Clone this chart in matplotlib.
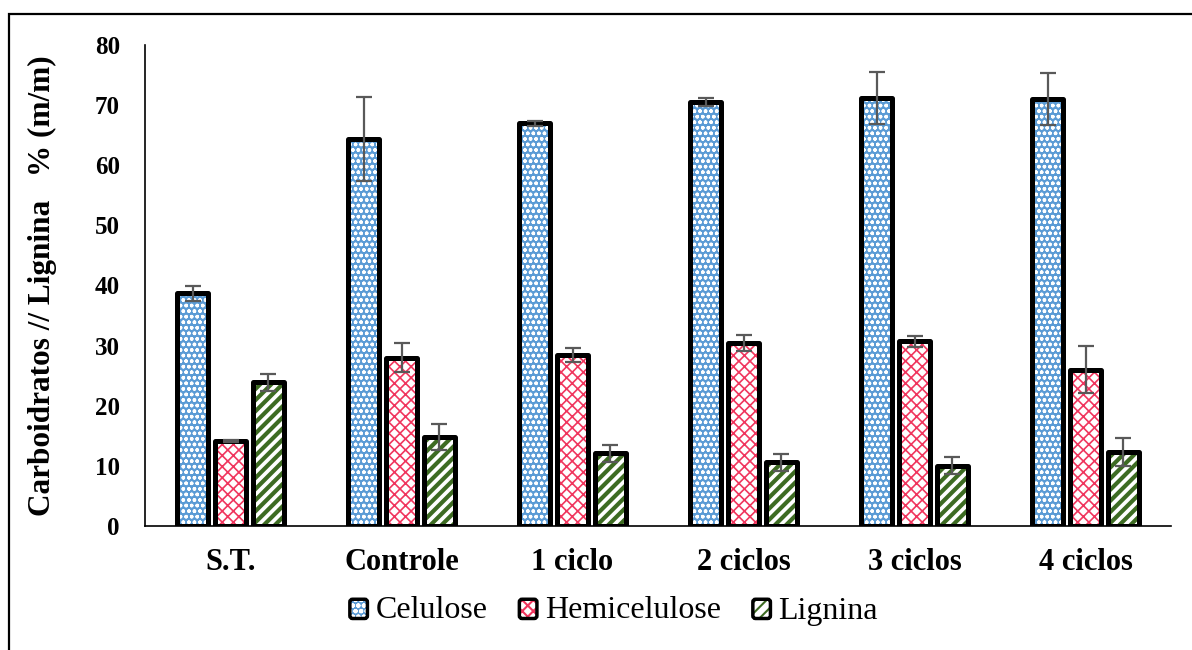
import numpy as np
import matplotlib.pyplot as plt
import matplotlib.patches as mpatches

plt.rcParams['font.family'] = ['Liberation Serif', 'DejaVu Serif']

grupos = ['S.T.', 'Controle', '1 ciclo', '2 ciclos', '3 ciclos', '4 ciclos']
celulose = [38.7, 64.4, 67.0, 70.5, 71.2, 71.0]
celulose_err = [1.3, 7.0, 0.4, 0.7, 4.3, 4.3]
hemicelulose = [14.1, 28.0, 28.4, 30.4, 30.7, 26.0]
hemicelulose_err = [0.2, 2.4, 1.2, 1.3, 0.9, 3.9]
lignina = [23.9, 14.8, 12.1, 10.6, 10.0, 12.3]
lignina_err = [1.4, 2.1, 1.4, 1.4, 1.4, 2.4]

series = [
    ('Celulose', celulose, celulose_err, '#5B9BD5', 'white', 'ooo', 1.0),
    ('Hemicelulose', hemicelulose, hemicelulose_err, 'white', '#F0365E', 'xxx', 1.2),
    ('Lignina', lignina, lignina_err, 'white', '#3D6B22', '///', 3.0),
]

fig = plt.figure(figsize=(11.92, 6.5), dpi=100)
ax = fig.add_axes([145 / 1192, 1 - 526 / 650, 1026 / 1192, 481 / 650])

x = np.arange(len(grupos))
largura = 0.183
passo = 0.222
handles = []
for i, (nome, vals, errs, face, hcor, hatch, hlw) in enumerate(series):
    pos = x + (i - 1) * passo
    with plt.rc_context({'hatch.linewidth': hlw}):
        ax.bar(pos, vals, largura, color=face, edgecolor=hcor, hatch=hatch,
               linewidth=0, zorder=2)
        h = mpatches.Patch(facecolor=face, edgecolor=hcor, hatch=hatch, linewidth=0)
    ax.bar(pos, vals, largura, facecolor='none', edgecolor='black',
           linewidth=3.6, joinstyle='round', zorder=3)
    ax.errorbar(pos, vals, yerr=errs, fmt='none', ecolor='#595959',
                elinewidth=1.6, capsize=6, capthick=1.6, zorder=4)
    handles.append((h, nome))

ax.set_xlim(-0.5, len(grupos) - 0.5)
ax.set_ylim(0, 80)
ax.set_yticks(range(0, 81, 10))
ax.set_xticks(x)
ax.set_xticklabels(grupos, fontsize=22, fontweight='bold')
ax.tick_params(axis='y', length=0, pad=18, labelsize=18)
ax.tick_params(axis='x', length=0, pad=16)
for t in ax.get_yticklabels():
    t.set_fontweight('bold')
for s in ['top', 'right']:
    ax.spines[s].set_visible(False)
ax.spines['left'].set_linewidth(1.2)
ax.spines['bottom'].set_linewidth(1.2)
ax.set_ylabel('Carboidratos // Lignina   % (m/m)', fontsize=22.5,
              fontweight='bold')
ax.yaxis.set_label_coords(-0.086, 0.5)

# legend squares: hatched fill with a heavy black outline
class QuadradoHandler:
    def __init__(self, patch):
        self.patch = patch

    def legend_artist(self, legend, orig, fontsize, handlebox):
        w, hgt = handlebox.width, handlebox.height
        p = self.patch
        with plt.rc_context({'hatch.linewidth': 1.5}):
            fill = mpatches.Rectangle((0, 0), w, hgt, facecolor=p.get_facecolor(),
                                      edgecolor=p.get_edgecolor(), hatch=p.get_hatch(),
                                      linewidth=0, transform=handlebox.get_transform())
        borda = mpatches.FancyBboxPatch((0, 0), w, hgt, boxstyle='round,pad=0,rounding_size=2',
                                        facecolor='none', edgecolor='black', linewidth=2.5,
                                        transform=handlebox.get_transform())
        handlebox.add_artist(fill)
        handlebox.add_artist(borda)
        return fill

leg = fig.legend([h for h, _ in handles], [n for _, n in handles],
                 handler_map={h: QuadradoHandler(h) for h, _ in handles},
                 loc='center', bbox_to_anchor=(0.515, 0.06), ncol=3, frameon=False,
                 fontsize=23, handlelength=0.55, handleheight=0.55,
                 handletextpad=0.25, columnspacing=1.0)

# outer frame of the figure
fig.patches.append(mpatches.Rectangle((9 / 1192, -0.05), 1.1, 1 - 14 / 650 + 0.05,
                                      transform=fig.transFigure, fill=False,
                                      edgecolor='black', linewidth=1.6))

fig.savefig('out.png', dpi=100)
